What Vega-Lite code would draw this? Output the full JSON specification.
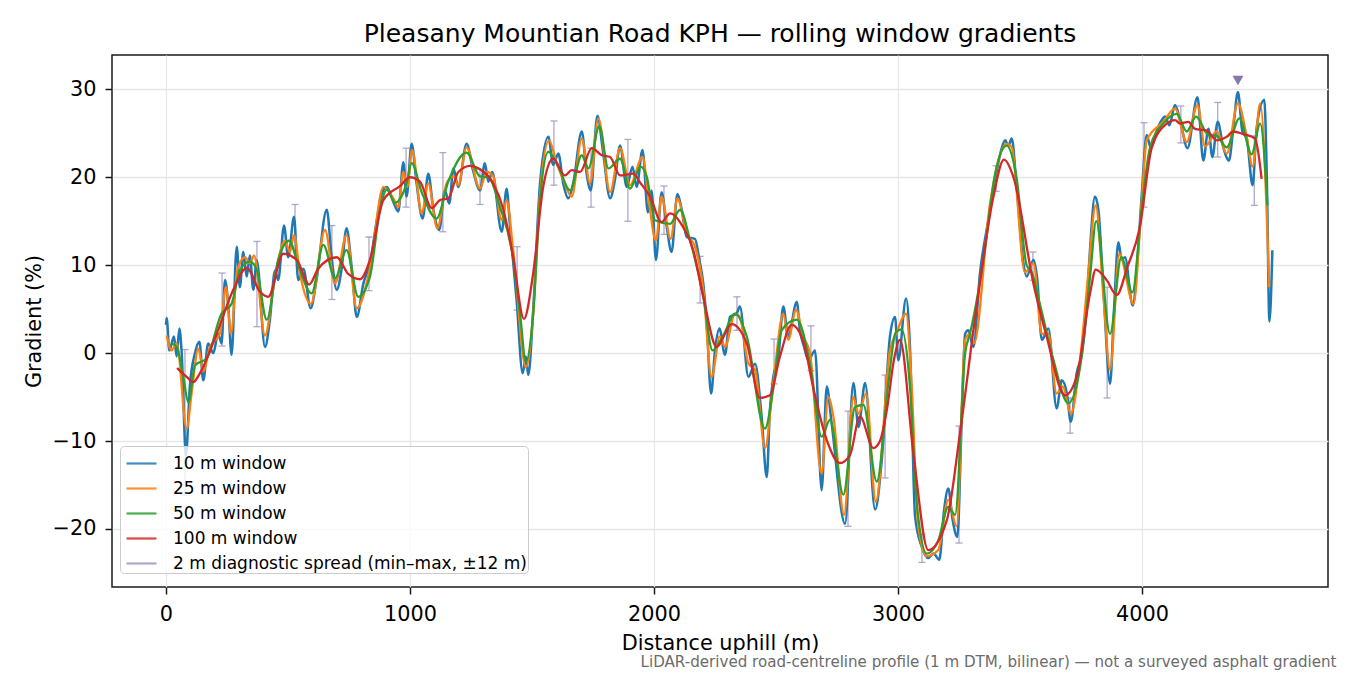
{
"$schema": "https://vega.github.io/schema/vega-lite/v6.json",
"autosize": {"type": "none"},
"padding": {"left": 112, "top": 55, "right": 22, "bottom": 88},
"width": 1216,
"height": 532,
"background": "white",
"title": {"text": "Pleasany Mountian Road KPH — rolling window gradients", "fontSize": 25, "font": "DejaVu Sans", "fontWeight": "normal", "color": "black", "anchor": "middle", "offset": 8},
"config": {
  "font": "DejaVu Sans",
  "view": {"stroke": "#1a1a1a", "strokeWidth": 1.5},
  "axis": {"labelFont": "DejaVu Sans", "titleFont": "DejaVu Sans", "labelFontSize": 20.8, "titleFontSize": 20.8, "titleFontWeight": "normal", "labelColor": "black", "titleColor": "black", "tickColor": "#1a1a1a", "tickSize": 7, "tickWidth": 1.5, "domain": false, "grid": true, "gridColor": "#e6e6e6", "gridWidth": 1.3},
  "legend": {"orient": "none", "legendX": 8, "legendY": 391, "padding": 1, "fillColor": "rgba(255,255,255,0.8)", "strokeColor": "#cccccc", "cornerRadius": 4, "labelFont": "DejaVu Sans", "labelFontSize": 17, "labelColor": "black", "symbolSize": 900, "symbolStrokeWidth": 2.2, "symbolOffset": 4, "rowPadding": 0, "labelOffset": 15, "labelLimit": 500}
},
"datasets": {
  "w10": [
{"m":0,"v":3.2},{"m":3,"v":4.0},{"m":14,"v":0.3},{"m":33,"v":1.9},{"m":44,"v":-0.4},{"m":55,"v":2.8},{"m":64,"v":0.3},{"m":82,"v":-11.6},{"m":98,"v":-3.8},{"m":119,"v":0.0},{"m":137,"v":1.3},{"m":153,"v":-3.1},{"m":173,"v":1.1},{"m":194,"v":0.0},{"m":214,"v":2.2},{"m":228,"v":1.1},{"m":242,"v":8.3},{"m":255,"v":5.6},{"m":269,"v":-0.2},{"m":290,"v":12.1},{"m":303,"v":7.5},{"m":317,"v":11.5},{"m":331,"v":8.7},{"m":344,"v":11.1},{"m":358,"v":7.2},{"m":372,"v":10.6},{"m":406,"v":0.7},{"m":426,"v":3.8},{"m":447,"v":9.4},{"m":460,"v":8.3},{"m":484,"v":14.5},{"m":501,"v":10.9},{"m":525,"v":15.5},{"m":542,"v":8.3},{"m":563,"v":9.6},{"m":593,"v":5.1},{"m":617,"v":8.3},{"m":659,"v":16.3},{"m":679,"v":10.9},{"m":700,"v":7.2},{"m":720,"v":9.6},{"m":740,"v":14.2},{"m":761,"v":9.8},{"m":782,"v":4.1},{"m":809,"v":7.9},{"m":836,"v":10.2},{"m":864,"v":15.1},{"m":884,"v":18.1},{"m":905,"v":18.9},{"m":932,"v":17.2},{"m":952,"v":16.1},{"m":973,"v":21.7},{"m":986,"v":17.8},{"m":1007,"v":23.8},{"m":1027,"v":19.3},{"m":1052,"v":15.3},{"m":1075,"v":20.4},{"m":1096,"v":16.3},{"m":1120,"v":14.0},{"m":1143,"v":18.5},{"m":1161,"v":17.0},{"m":1178,"v":21.0},{"m":1198,"v":18.9},{"m":1232,"v":23.8},{"m":1260,"v":20.6},{"m":1287,"v":18.5},{"m":1307,"v":21.6},{"m":1321,"v":19.5},{"m":1337,"v":20.6},{"m":1376,"v":13.8},{"m":1396,"v":18.7},{"m":1410,"v":14.4},{"m":1437,"v":6.0},{"m":1462,"v":-2.3},{"m":1475,"v":-0.4},{"m":1485,"v":-2.5},{"m":1505,"v":4.9},{"m":1533,"v":19.3},{"m":1567,"v":24.6},{"m":1587,"v":21.4},{"m":1608,"v":22.7},{"m":1628,"v":19.3},{"m":1649,"v":17.6},{"m":1669,"v":19.3},{"m":1704,"v":25.2},{"m":1724,"v":20.4},{"m":1741,"v":18.5},{"m":1768,"v":27.0},{"m":1792,"v":22.7},{"m":1820,"v":17.6},{"m":1840,"v":19.7},{"m":1861,"v":23.6},{"m":1888,"v":18.9},{"m":1912,"v":21.2},{"m":1929,"v":18.9},{"m":1953,"v":23.1},{"m":1975,"v":16.0},{"m":1990,"v":18.5},{"m":2008,"v":10.6},{"m":2031,"v":18.3},{"m":2052,"v":14.4},{"m":2072,"v":11.5},{"m":2096,"v":18.1},{"m":2113,"v":16.4},{"m":2134,"v":13.2},{"m":2168,"v":13.0},{"m":2186,"v":10.6},{"m":2202,"v":7.9},{"m":2216,"v":3.4},{"m":2234,"v":-4.6},{"m":2250,"v":0.3},{"m":2268,"v":2.8},{"m":2291,"v":-0.2},{"m":2311,"v":4.1},{"m":2339,"v":4.5},{"m":2352,"v":5.3},{"m":2387,"v":-2.7},{"m":2414,"v":-1.2},{"m":2441,"v":-7.2},{"m":2462,"v":-14.1},{"m":2475,"v":-6.5},{"m":2489,"v":-2.7},{"m":2510,"v":-0.4},{"m":2530,"v":5.3},{"m":2550,"v":1.9},{"m":2585,"v":5.8},{"m":2598,"v":2.6},{"m":2615,"v":0.7},{"m":2633,"v":-0.8},{"m":2660,"v":0.3},{"m":2687,"v":-15.6},{"m":2708,"v":-3.8},{"m":2728,"v":-8.0},{"m":2783,"v":-19.4},{"m":2817,"v":-3.4},{"m":2838,"v":-8.4},{"m":2865,"v":-3.4},{"m":2906,"v":-17.8},{"m":2933,"v":-12.3},{"m":2967,"v":1.9},{"m":2988,"v":4.1},{"m":3001,"v":-0.8},{"m":3033,"v":6.2},{"m":3049,"v":0.7},{"m":3070,"v":-18.6},{"m":3097,"v":-22.0},{"m":3124,"v":-23.3},{"m":3145,"v":-22.8},{"m":3169,"v":-23.5},{"m":3189,"v":-17.8},{"m":3206,"v":-15.4},{"m":3224,"v":-19.0},{"m":3243,"v":-20.9},{"m":3261,"v":-7.6},{"m":3275,"v":2.2},{"m":3288,"v":2.6},{"m":3309,"v":0.7},{"m":3336,"v":9.1},{"m":3370,"v":15.1},{"m":3398,"v":19.7},{"m":3425,"v":23.3},{"m":3439,"v":24.2},{"m":3452,"v":23.6},{"m":3466,"v":24.4},{"m":3486,"v":18.9},{"m":3514,"v":10.2},{"m":3527,"v":8.7},{"m":3555,"v":10.6},{"m":3571,"v":8.3},{"m":3589,"v":1.5},{"m":3616,"v":2.8},{"m":3650,"v":-6.3},{"m":3671,"v":-3.1},{"m":3692,"v":-4.6},{"m":3708,"v":-7.8},{"m":3732,"v":-2.3},{"m":3753,"v":-0.2},{"m":3770,"v":4.0},{"m":3785,"v":11.0},{"m":3807,"v":17.8},{"m":3821,"v":16.3},{"m":3842,"v":7.0},{"m":3869,"v":-3.5},{"m":3885,"v":4.9},{"m":3903,"v":12.6},{"m":3917,"v":10.6},{"m":3930,"v":10.9},{"m":3962,"v":5.4},{"m":3981,"v":10.6},{"m":3999,"v":18.1},{"m":4019,"v":24.8},{"m":4036,"v":23.3},{"m":4063,"v":25.5},{"m":4081,"v":26.5},{"m":4094,"v":26.9},{"m":4112,"v":25.9},{"m":4135,"v":28.2},{"m":4156,"v":26.5},{"m":4186,"v":23.3},{"m":4227,"v":29.1},{"m":4251,"v":21.9},{"m":4272,"v":25.5},{"m":4288,"v":22.3},{"m":4310,"v":26.3},{"m":4333,"v":23.4},{"m":4356,"v":21.9},{"m":4375,"v":25.9},{"m":4393,"v":29.7},{"m":4411,"v":25.2},{"m":4429,"v":24.4},{"m":4453,"v":19.1},{"m":4470,"v":25.7},{"m":4501,"v":28.8},{"m":4511,"v":20.4},{"m":4522,"v":3.6},{"m":4534,"v":11.7}
  ],
  "w25": [
{"m":3,"v":2.0},{"m":23,"v":0.3},{"m":44,"v":1.1},{"m":85,"v":-8.6},{"m":105,"v":-4.6},{"m":133,"v":0.5},{"m":153,"v":-2.1},{"m":180,"v":0.7},{"m":221,"v":2.2},{"m":246,"v":7.5},{"m":266,"v":2.2},{"m":292,"v":9.4},{"m":324,"v":10.9},{"m":344,"v":10.2},{"m":361,"v":11.1},{"m":406,"v":2.0},{"m":447,"v":8.7},{"m":488,"v":12.8},{"m":508,"v":11.5},{"m":525,"v":13.4},{"m":549,"v":9.1},{"m":594,"v":5.6},{"m":652,"v":14.0},{"m":693,"v":7.9},{"m":740,"v":13.4},{"m":782,"v":5.1},{"m":836,"v":9.6},{"m":891,"v":18.9},{"m":932,"v":17.6},{"m":952,"v":16.6},{"m":973,"v":20.6},{"m":989,"v":18.9},{"m":1009,"v":23.1},{"m":1048,"v":15.9},{"m":1075,"v":19.3},{"m":1112,"v":14.2},{"m":1150,"v":19.3},{"m":1178,"v":20.1},{"m":1198,"v":19.1},{"m":1232,"v":23.4},{"m":1287,"v":18.7},{"m":1314,"v":20.6},{"m":1341,"v":20.1},{"m":1376,"v":15.1},{"m":1396,"v":17.4},{"m":1423,"v":11.7},{"m":1475,"v":-1.6},{"m":1505,"v":4.5},{"m":1533,"v":18.1},{"m":1570,"v":24.2},{"m":1601,"v":21.6},{"m":1628,"v":19.7},{"m":1663,"v":17.8},{"m":1704,"v":24.4},{"m":1738,"v":19.3},{"m":1772,"v":26.7},{"m":1820,"v":18.3},{"m":1861,"v":23.3},{"m":1902,"v":19.1},{"m":1953,"v":22.3},{"m":1980,"v":17.0},{"m":2008,"v":12.8},{"m":2031,"v":17.8},{"m":2068,"v":13.0},{"m":2096,"v":17.6},{"m":2134,"v":13.6},{"m":2168,"v":12.1},{"m":2202,"v":7.2},{"m":2236,"v":-2.7},{"m":2270,"v":1.9},{"m":2291,"v":0.7},{"m":2332,"v":4.5},{"m":2352,"v":4.1},{"m":2387,"v":-1.2},{"m":2414,"v":-1.9},{"m":2455,"v":-10.8},{"m":2489,"v":-3.4},{"m":2530,"v":4.5},{"m":2550,"v":1.5},{"m":2582,"v":4.9},{"m":2612,"v":1.9},{"m":2639,"v":0.0},{"m":2687,"v":-13.7},{"m":2714,"v":-5.0},{"m":2735,"v":-7.2},{"m":2779,"v":-18.4},{"m":2817,"v":-5.0},{"m":2838,"v":-6.9},{"m":2869,"v":-4.6},{"m":2909,"v":-16.9},{"m":2967,"v":0.3},{"m":2995,"v":2.4},{"m":3033,"v":4.5},{"m":3056,"v":-3.8},{"m":3083,"v":-19.7},{"m":3118,"v":-23.1},{"m":3165,"v":-22.4},{"m":3206,"v":-16.7},{"m":3240,"v":-19.7},{"m":3275,"v":1.5},{"m":3295,"v":2.2},{"m":3311,"v":1.1},{"m":3377,"v":17.0},{"m":3445,"v":23.8},{"m":3466,"v":23.4},{"m":3520,"v":9.2},{"m":3555,"v":10.2},{"m":3589,"v":2.2},{"m":3616,"v":2.2},{"m":3650,"v":-4.6},{"m":3675,"v":-3.8},{"m":3708,"v":-6.9},{"m":3746,"v":-0.8},{"m":3780,"v":9.1},{"m":3810,"v":16.8},{"m":3842,"v":6.4},{"m":3869,"v":-1.9},{"m":3907,"v":11.3},{"m":3965,"v":5.6},{"m":3999,"v":17.4},{"m":4019,"v":24.2},{"m":4087,"v":26.3},{"m":4135,"v":27.8},{"m":4183,"v":24.0},{"m":4227,"v":28.2},{"m":4258,"v":23.5},{"m":4306,"v":25.2},{"m":4347,"v":22.7},{"m":4393,"v":28.4},{"m":4429,"v":24.6},{"m":4453,"v":21.2},{"m":4484,"v":28.4},{"m":4521,"v":7.5}
  ],
  "w50": [
{"m":23,"v":1.1},{"m":44,"v":0.7},{"m":71,"v":-2.7},{"m":92,"v":-5.6},{"m":119,"v":-1.4},{"m":167,"v":-0.6},{"m":228,"v":4.5},{"m":269,"v":5.6},{"m":303,"v":9.4},{"m":344,"v":10.4},{"m":372,"v":9.5},{"m":413,"v":3.8},{"m":460,"v":10.6},{"m":505,"v":12.8},{"m":542,"v":10.0},{"m":597,"v":6.8},{"m":645,"v":12.3},{"m":693,"v":8.5},{"m":740,"v":11.7},{"m":788,"v":6.4},{"m":836,"v":8.7},{"m":877,"v":16.3},{"m":905,"v":18.6},{"m":939,"v":17.1},{"m":986,"v":19.3},{"m":1007,"v":21.6},{"m":1048,"v":18.3},{"m":1109,"v":15.3},{"m":1157,"v":19.5},{"m":1232,"v":22.8},{"m":1287,"v":20.1},{"m":1321,"v":20.0},{"m":1369,"v":16.6},{"m":1417,"v":11.7},{"m":1451,"v":4.5},{"m":1475,"v":-1.0},{"m":1505,"v":4.5},{"m":1533,"v":17.4},{"m":1567,"v":22.9},{"m":1608,"v":21.2},{"m":1656,"v":18.5},{"m":1704,"v":22.5},{"m":1731,"v":21.0},{"m":1776,"v":25.8},{"m":1813,"v":21.0},{"m":1861,"v":22.1},{"m":1902,"v":18.7},{"m":1945,"v":21.2},{"m":1970,"v":20.1},{"m":2004,"v":15.1},{"m":2066,"v":14.7},{"m":2107,"v":16.3},{"m":2148,"v":12.8},{"m":2202,"v":6.4},{"m":2240,"v":0.3},{"m":2284,"v":2.0},{"m":2332,"v":4.5},{"m":2380,"v":1.9},{"m":2455,"v":-8.6},{"m":2489,"v":-4.0},{"m":2523,"v":2.6},{"m":2585,"v":3.8},{"m":2639,"v":-1.2},{"m":2687,"v":-9.5},{"m":2721,"v":-7.6},{"m":2776,"v":-16.1},{"m":2824,"v":-6.1},{"m":2858,"v":-5.9},{"m":2913,"v":-14.6},{"m":2960,"v":-3.5},{"m":2990,"v":2.3},{"m":3015,"v":2.7},{"m":3049,"v":-3.8},{"m":3077,"v":-17.1},{"m":3118,"v":-22.8},{"m":3165,"v":-21.3},{"m":3206,"v":-17.5},{"m":3234,"v":-18.4},{"m":3275,"v":0.0},{"m":3295,"v":2.2},{"m":3350,"v":10.6},{"m":3398,"v":20.4},{"m":3445,"v":23.6},{"m":3486,"v":19.9},{"m":3527,"v":10.0},{"m":3548,"v":9.2},{"m":3582,"v":5.5},{"m":3637,"v":-0.8},{"m":3698,"v":-5.7},{"m":3746,"v":-1.6},{"m":3787,"v":8.7},{"m":3812,"v":15.0},{"m":3869,"v":2.2},{"m":3915,"v":10.9},{"m":3960,"v":6.9},{"m":3999,"v":16.6},{"m":4033,"v":23.4},{"m":4087,"v":26.1},{"m":4142,"v":27.2},{"m":4183,"v":25.2},{"m":4221,"v":26.9},{"m":4272,"v":24.8},{"m":4306,"v":24.7},{"m":4347,"v":23.4},{"m":4399,"v":26.7},{"m":4449,"v":22.6},{"m":4484,"v":26.1},{"m":4514,"v":16.8}
  ],
  "w100": [
{"m":46,"v":-1.7},{"m":85,"v":-2.7},{"m":112,"v":-3.3},{"m":139,"v":-2.3},{"m":208,"v":2.2},{"m":276,"v":7.2},{"m":331,"v":9.7},{"m":385,"v":7.0},{"m":419,"v":6.4},{"m":481,"v":11.3},{"m":536,"v":10.6},{"m":587,"v":7.8},{"m":624,"v":9.6},{"m":700,"v":10.9},{"m":747,"v":9.0},{"m":795,"v":8.4},{"m":836,"v":10.6},{"m":891,"v":17.4},{"m":959,"v":19.0},{"m":1000,"v":20.0},{"m":1041,"v":19.5},{"m":1089,"v":16.5},{"m":1123,"v":17.4},{"m":1157,"v":17.6},{"m":1198,"v":20.6},{"m":1246,"v":21.3},{"m":1287,"v":20.9},{"m":1341,"v":19.3},{"m":1383,"v":16.3},{"m":1423,"v":10.9},{"m":1467,"v":3.9},{"m":1505,"v":9.1},{"m":1546,"v":18.9},{"m":1587,"v":22.1},{"m":1635,"v":20.2},{"m":1663,"v":20.8},{"m":1697,"v":20.6},{"m":1745,"v":23.3},{"m":1786,"v":22.5},{"m":1820,"v":22.3},{"m":1861,"v":20.2},{"m":1915,"v":20.4},{"m":1943,"v":19.4},{"m":1984,"v":17.8},{"m":2031,"v":14.9},{"m":2066,"v":15.9},{"m":2120,"v":14.3},{"m":2161,"v":11.7},{"m":2202,"v":6.4},{"m":2257,"v":0.7},{"m":2318,"v":3.3},{"m":2380,"v":1.1},{"m":2434,"v":-5.1},{"m":2475,"v":-4.8},{"m":2516,"v":-0.4},{"m":2564,"v":3.2},{"m":2612,"v":1.3},{"m":2653,"v":-4.0},{"m":2708,"v":-9.9},{"m":2762,"v":-12.5},{"m":2803,"v":-11.6},{"m":2844,"v":-7.2},{"m":2899,"v":-10.8},{"m":2926,"v":-10.0},{"m":2954,"v":-6.5},{"m":2985,"v":-0.5},{"m":3008,"v":1.5},{"m":3063,"v":-11.4},{"m":3124,"v":-22.4},{"m":3200,"v":-19.0},{"m":3254,"v":-9.1},{"m":3322,"v":5.3},{"m":3391,"v":17.8},{"m":3434,"v":22.0},{"m":3473,"v":20.0},{"m":3555,"v":7.9},{"m":3609,"v":1.9},{"m":3684,"v":-4.8},{"m":3732,"v":-2.7},{"m":3787,"v":6.8},{"m":3810,"v":9.5},{"m":3855,"v":8.3},{"m":3896,"v":6.6},{"m":3940,"v":9.8},{"m":3990,"v":14.2},{"m":4040,"v":23.4},{"m":4101,"v":26.1},{"m":4135,"v":26.5},{"m":4156,"v":26.1},{"m":4190,"v":26.3},{"m":4217,"v":25.5},{"m":4265,"v":25.3},{"m":4306,"v":24.2},{"m":4347,"v":24.6},{"m":4374,"v":25.2},{"m":4415,"v":24.9},{"m":4463,"v":24.4},{"m":4490,"v":19.8}
  ],
  "spread": [
{"m":78,"lo":-16.2,"hi":0.4},{"m":230,"lo":0.8,"hi":9.1},{"m":373,"lo":3.0,"hi":12.7},{"m":529,"lo":10.8,"hi":16.9},{"m":680,"lo":6.1,"hi":14.5},{"m":832,"lo":7.1,"hi":13.2},{"m":984,"lo":16.6,"hi":23.3},{"m":1135,"lo":13.8,"hi":22.8},{"m":1287,"lo":16.9,"hi":20.9},{"m":1439,"lo":4.9,"hi":12.1},{"m":1590,"lo":19.1,"hi":26.4},{"m":1742,"lo":16.6,"hi":23.3},{"m":1893,"lo":15.0,"hi":24.3},{"m":2041,"lo":13.5,"hi":19.0},{"m":2189,"lo":5.7,"hi":11.0},{"m":2340,"lo":2.6,"hi":6.4},{"m":2492,"lo":-3.5,"hi":1.6},{"m":2643,"lo":-2.0,"hi":3.1},{"m":2795,"lo":-19.7,"hi":-6.6},{"m":2947,"lo":-14.2,"hi":-2.5},{"m":3098,"lo":-23.8,"hi":-20.6},{"m":3250,"lo":-21.6,"hi":-8.3},{"m":3402,"lo":18.4,"hi":21.3},{"m":3553,"lo":8.3,"hi":11.5},{"m":3705,"lo":-9.1,"hi":-5.1},{"m":3857,"lo":-5.1,"hi":7.5},{"m":4008,"lo":16.6,"hi":26.2},{"m":4159,"lo":23.9,"hi":28.1},{"m":4310,"lo":22.3,"hi":28.5},{"m":4460,"lo":16.8,"hi":24.7}
  ],
  "marker": [{"m":4393,"v":31.0}]
},
"resolve": {"scale": {"x": "independent"}, "axis": {"x": "independent"}},
"layer": [
  {
    "layer": [
      {
        "data": {"name": "spread"},
        "mark": {"type": "rule", "strokeWidth": 1.3, "opacity": 0.85},
        "encoding": {
          "x": {"field": "m", "type": "quantitative", "scale": {"domain": [-221, 4762], "nice": false, "zero": false}, "axis": {"title": "Distance uphill (m)", "values": [0, 1000, 2000, 3000, 4000], "labelPadding": 10, "titlePadding": 10, "format": "d"}},
          "y": {"field": "lo", "type": "quantitative", "scale": {"domain": [-26.6, 33.9], "nice": false, "zero": false}, "axis": {"title": "Gradient (%)", "values": [-20, -10, 0, 10, 20, 30], "labelPadding": 9, "titlePadding": 8, "labelExpr": "datum.value < 0 ? '−' + abs(datum.value) : datum.label"}},
          "y2": {"field": "hi"},
          "color": {"datum": "2 m diagnostic spread (min–max, ±12 m)", "type": "nominal", "scale": {"domain": ["10 m window", "25 m window", "50 m window", "100 m window", "2 m diagnostic spread (min–max, ±12 m)"], "range": ["#1f77b4", "#ff7f0e", "#2ca02c", "#d62728", "#a397c2"]},
            "legend": {"title": null, "encode": {"symbols": {
              "strokeWidth": {"value": 2.2},
              "opacity": {"value": 1}
            }}}}
        }
      },
      {
        "data": {"name": "spread"},
        "mark": {"type": "tick", "orient": "horizontal", "size": 7, "thickness": 1.3, "color": "#a397c2", "opacity": 0.85},
        "encoding": {"x": {"field": "m", "type": "quantitative"}, "y": {"field": "lo", "type": "quantitative"}}
      },
      {
        "data": {"name": "spread"},
        "mark": {"type": "tick", "orient": "horizontal", "size": 7, "thickness": 1.3, "color": "#a397c2", "opacity": 0.85},
        "encoding": {"x": {"field": "m", "type": "quantitative"}, "y": {"field": "hi", "type": "quantitative"}}
      },
      {
        "data": {"name": "w10"},
        "mark": {"type": "line", "interpolate": "monotone", "strokeWidth": 2.5, "strokeJoin": "round"},
        "encoding": {"x": {"field": "m", "type": "quantitative"}, "y": {"field": "v", "type": "quantitative"}, "color": {"datum": "10 m window", "type": "nominal"}}
      },
      {
        "data": {"name": "w25"},
        "mark": {"type": "line", "interpolate": "monotone", "strokeWidth": 2.3, "strokeJoin": "round"},
        "encoding": {"x": {"field": "m", "type": "quantitative"}, "y": {"field": "v", "type": "quantitative"}, "color": {"datum": "25 m window", "type": "nominal"}}
      },
      {
        "data": {"name": "w50"},
        "mark": {"type": "line", "interpolate": "monotone", "strokeWidth": 2.3, "strokeJoin": "round"},
        "encoding": {"x": {"field": "m", "type": "quantitative"}, "y": {"field": "v", "type": "quantitative"}, "color": {"datum": "50 m window", "type": "nominal"}}
      },
      {
        "data": {"name": "w100"},
        "mark": {"type": "line", "interpolate": "monotone", "strokeWidth": 2.3, "strokeJoin": "round"},
        "encoding": {"x": {"field": "m", "type": "quantitative"}, "y": {"field": "v", "type": "quantitative"}, "color": {"datum": "100 m window", "type": "nominal"}}
      }
    ]
  },
  {
    "data": {"name": "marker"},
    "mark": {"type": "point", "shape": "triangle-down", "filled": true, "size": 120, "color": "#8878aa", "opacity": 1},
    "encoding": {
      "x": {"field": "m", "type": "quantitative", "scale": {"domain": [-221, 4762], "nice": false, "zero": false}, "axis": {"orient": "bottom", "title": "LiDAR-derived road-centreline profile (1 m DTM, bilinear) — not a surveyed asphalt gradient", "labels": false, "ticks": false, "grid": false, "domain": false, "titleFontSize": 15.1, "titleColor": "#6b6b6b", "titleX": 1224, "titleY": 79, "titleAlign": "right", "titleBaseline": "alphabetic", "titleAnchor": null}},
      "y": {"field": "v", "type": "quantitative"}
    }
  }
]
}
